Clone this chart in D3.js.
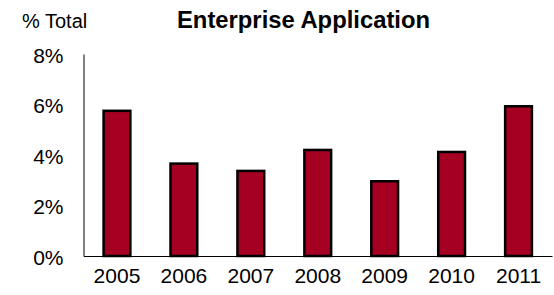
<!DOCTYPE html>
<html><head><meta charset="utf-8">
<script src="https://cdn.jsdelivr.net/npm/d3@7"></script>
<style>body{margin:0;background:#fff}svg{display:block;font-family:"Liberation Sans",Arial,sans-serif}</style>
</head><body>
<script>
const years = ["2005","2006","2007","2008","2009","2010","2011"];
const values = [5.75, 3.66, 3.37, 4.2, 2.96, 4.12, 5.93];
const yTicks = [0, 2, 4, 6, 8];
const title = "Enterprise Application";
const yLabel = "% Total";

(function(){
const W = 554, H = 295;
const svg = d3.select("body").append("svg").attr("width", W).attr("height", H);
const mLeft = 83.5, mRight = 552, mTop = 54, mBottom = 256;
const x = d3.scaleBand().domain(years).range([mLeft, mRight]).paddingInner(0.6).paddingOuter(0.3);
const y = d3.scaleLinear().domain([0, 8]).range([mBottom, mTop]);

svg.append("text").attr("x", 22).attr("y", 28).attr("font-size", 20).attr("fill", "#000").text(yLabel);
svg.append("text").attr("x", 303.5).attr("y", 28).attr("text-anchor", "middle").attr("font-size", 23.8).attr("font-weight", "bold").attr("fill", "#000").text(title);

const yAxis = d3.axisLeft(y).tickValues(yTicks).tickFormat(d => d + "%").tickSize(0).tickPadding(20);
const gy = svg.append("g").attr("transform", `translate(${mLeft},0)`).call(yAxis);
gy.select(".domain").attr("stroke", "#000").attr("stroke-width", 1);
gy.selectAll("text").attr("font-size", 21).attr("fill", "#000").attr("dy", "0.4em").attr("font-family", "Liberation Sans, Arial, sans-serif");

const xAxis = d3.axisBottom(x).tickSize(0).tickPadding(12);
const gx = svg.append("g").attr("transform", `translate(0,${mBottom})`).call(xAxis);
gx.select(".domain").attr("stroke", "#000").attr("stroke-width", 1);
gx.selectAll("text").attr("font-size", 21).attr("fill", "#000").attr("font-family", "Liberation Sans, Arial, sans-serif");

svg.append("g").selectAll("rect").data(years).join("rect")
  .attr("x", d => x(d))
  .attr("y", (d, i) => y(values[i]))
  .attr("width", x.bandwidth())
  .attr("height", (d, i) => mBottom - y(values[i]))
  .attr("fill", "#a50021")
  .attr("stroke", "#000")
  .attr("stroke-width", 2.5);
})();
</script>
</body></html>
